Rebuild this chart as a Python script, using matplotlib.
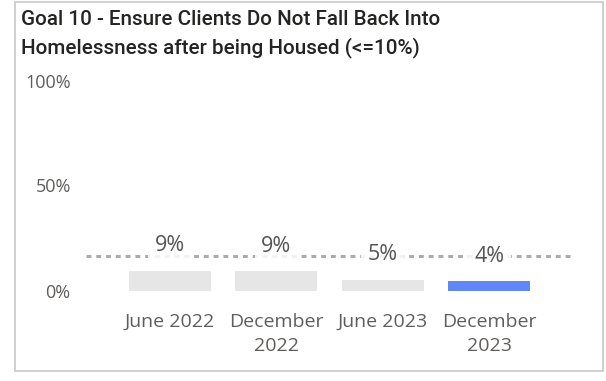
import matplotlib
matplotlib.use("Agg")
import matplotlib.pyplot as plt
from matplotlib.patches import Rectangle
from matplotlib.ticker import FuncFormatter

# Data
periods = ["June 2022", "December\n2022", "June 2023", "December\n2023"]
rates = [0.094, 0.092, 0.052, 0.043]
target_line = 0.164
highlight = [False, False, False, True]

title_lines = ["Goal 10 - Ensure Clients Do Not Fall Back Into",
               "Homelessness after being Housed (<=10%)"]

W, H, DPI = 606, 381, 100
fig = plt.figure(figsize=(W / DPI, H / DPI), dpi=DPI)
fig.patch.set_facecolor("white")

# Card border
x0, x1 = 15 / W, 603 / W
y0, y1 = 1 - 371 / H, 1 - 2 / H
fig.patches.append(Rectangle((x0, y0), x1 - x0, y1 - y0, transform=fig.transFigure,
                             fill=False, edgecolor="#c8c8c8", linewidth=1.2))

left, right = 86 / W, 573 / W
bottom, top = 1 - 290.5 / H, 1 - 80.5 / H
ax = fig.add_axes([left, bottom, right - left, top - bottom])

xs = list(range(len(periods)))
colors = ["#5f87f5" if h else "#e6e6e6" for h in highlight]
ax.bar(xs, rates, width=0.77, color=colors, zorder=2)

ax.set_xlim(-0.787, len(periods) - 1 + 0.787)
ax.set_ylim(0, 1)

# Target reference line
ax.axhline(target_line, color="#ababab", linewidth=2.2, linestyle=(0, (1.6, 1.6)),
           zorder=1)

for x, v in zip(xs, rates):
    ax.annotate(f"{v:.0%}", (x, v), xytext=(0, 18), textcoords="offset points",
                ha="center", va="center", fontsize=15.5, color="#555555",
                family="Open Sans", zorder=3,
                bbox=dict(boxstyle="square,pad=0.3", facecolor="white",
                          edgecolor="none", alpha=0.85))

ax.set_yticks([0, 0.5, 1.0])
ax.yaxis.set_major_formatter(FuncFormatter(lambda v, _: f"{v:.0%}"))
ax.set_xticks(xs)
ax.set_xticklabels(periods, fontsize=14, color="#605e5c", family="Open Sans",
                   linespacing=1.45)
for lab in ax.get_yticklabels():
    lab.set_fontsize(13)
    lab.set_color("#605e5c")
    lab.set_family("Open Sans")
ax.tick_params(axis="x", length=0, pad=16)
ax.tick_params(axis="y", length=0, pad=11)
for s in ax.spines.values():
    s.set_visible(False)
ax.set_facecolor("none")

for i, line in enumerate(title_lines):
    fig.text(21 / W, 1 - (25 + 28 * i) / H, line, ha="left", va="baseline",
             fontsize=14.9, family="Roboto", fontweight="medium", color="#252423")

fig.savefig("out.png", dpi=DPI, facecolor="white")
